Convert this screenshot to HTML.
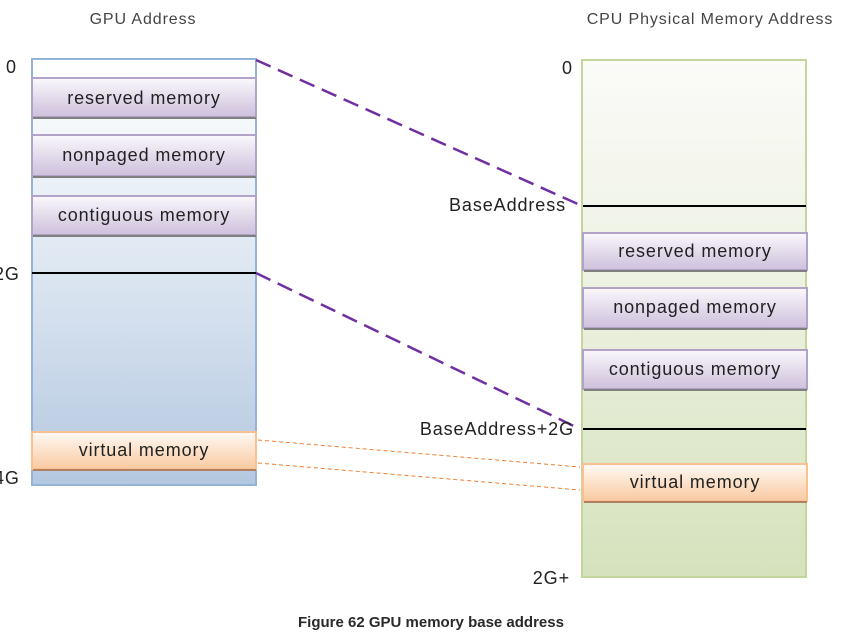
<!DOCTYPE html>
<html><head><style>
body{margin:0;width:863px;height:637px;background:#fff;overflow:hidden;font-family:"Liberation Sans",sans-serif;}
</style></head><body>
<svg width="863" height="637" xmlns="http://www.w3.org/2000/svg">
<defs>
<linearGradient id="gb" x1="0" y1="0" x2="0" y2="1">
<stop offset="0" stop-color="#ffffff"/><stop offset="0.45" stop-color="#e0e9f3"/><stop offset="1" stop-color="#b4c8e0"/></linearGradient>
<linearGradient id="gg" x1="0" y1="0" x2="0" y2="1">
<stop offset="0" stop-color="#fbfbf9"/><stop offset="0.4" stop-color="#eef2e3"/><stop offset="1" stop-color="#d5e2bc"/></linearGradient>
<linearGradient id="pp" x1="0" y1="0" x2="0" y2="1">
<stop offset="0" stop-color="#faf8fc"/><stop offset="1" stop-color="#cdc0dc"/></linearGradient>
<linearGradient id="oo" x1="0" y1="0" x2="0" y2="1">
<stop offset="0" stop-color="#fffaf5"/><stop offset="1" stop-color="#f9c9a0"/></linearGradient>
</defs>
<g font-size="16" fill="#444" letter-spacing="0.9">
<text x="143" y="24" text-anchor="middle">GPU Address</text>
<text x="710" y="24" text-anchor="middle">CPU Physical Memory Address</text>
</g>
<rect x="32" y="59" width="224" height="426" fill="url(#gb)" stroke="#95b3d7" stroke-width="2"/>
<rect x="582" y="60" width="224" height="517" fill="url(#gg)" stroke="#c3d69b" stroke-width="2"/>
<g stroke="#b3a2c7" stroke-width="2" fill="url(#pp)">
<rect x="32" y="78" width="224" height="39"/>
<rect x="32" y="135" width="224" height="41"/>
<rect x="32" y="196" width="224" height="39"/>
<rect x="583" y="233" width="224" height="37"/>
<rect x="583" y="288" width="224" height="40"/>
<rect x="583" y="350" width="224" height="39"/>
</g>
<g stroke="#7f7f7f" stroke-width="2">
<line x1="33" y1="118" x2="256" y2="118"/><line x1="33" y1="177" x2="256" y2="177"/><line x1="33" y1="236" x2="256" y2="236"/>
<line x1="584" y1="271" x2="807" y2="271"/><line x1="584" y1="329" x2="807" y2="329"/><line x1="584" y1="390" x2="807" y2="390"/>
</g>
<g stroke="#fac090" stroke-width="2" fill="url(#oo)">
<rect x="32" y="432" width="224" height="37"/>
<rect x="583" y="464" width="224" height="37"/>
</g>
<g stroke="#b08060" stroke-width="2">
<line x1="33" y1="470" x2="256" y2="470"/><line x1="584" y1="502" x2="807" y2="502"/>
</g>
<g stroke="#000" stroke-width="2">
<line x1="32" y1="273" x2="256" y2="273"/>
<line x1="583" y1="206" x2="806" y2="206"/>
<line x1="583" y1="429" x2="806" y2="429"/>
</g>
<g stroke="#7030a0" stroke-width="2.5" stroke-dasharray="16,8" fill="none">
<line x1="256" y1="60" x2="580" y2="205"/>
<line x1="256" y1="273" x2="580" y2="429"/>
</g>
<g stroke="#f07f30" stroke-width="1" stroke-dasharray="4,3" fill="none">
<line x1="258" y1="440" x2="580" y2="467"/>
<line x1="258" y1="463" x2="580" y2="490"/>
</g>
<g font-size="18" fill="#222" text-anchor="middle" letter-spacing="0.9">
<text x="144" y="104">reserved memory</text>
<text x="144" y="161">nonpaged memory</text>
<text x="144" y="221">contiguous memory</text>
<text x="144" y="456">virtual memory</text>
<text x="695" y="257">reserved memory</text>
<text x="695" y="313">nonpaged memory</text>
<text x="695" y="375">contiguous memory</text>
<text x="695" y="488">virtual memory</text>
</g>
<g font-size="18" fill="#222" letter-spacing="0.9">
<text x="6" y="73">0</text>
<text x="-6" y="280">2G</text>
<text x="-6" y="484">4G</text>
<text x="562" y="74">0</text>
<text x="566" y="211" text-anchor="end">BaseAddress</text>
<text x="574" y="435" text-anchor="end">BaseAddress+2G</text>
<text x="570" y="584" text-anchor="end">2G+</text>
</g>
<text x="431" y="627" font-size="15" font-weight="bold" fill="#2a2a2a" text-anchor="middle">Figure 62 GPU memory base address</text>
</svg>
</body></html>
